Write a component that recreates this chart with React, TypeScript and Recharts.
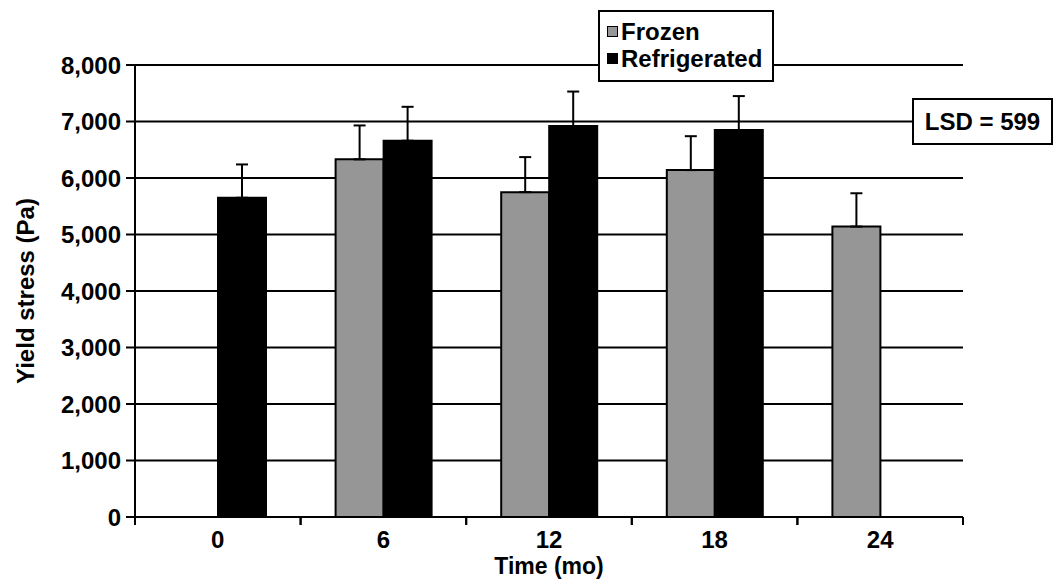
import { Bar, BarChart, CartesianGrid, ErrorBar, XAxis, YAxis } from 'recharts';

const months = ['0', '6', '12', '18', '24'];
const frozen = [null, 6330, 5750, 6140, 5140];
const refrigerated = [5650, 6660, 6920, 6850, null];
const frozenErr = [null, 600, 620, 600, 590];
const refrigeratedErr = [590, 600, 610, 600, null];
const yTicks = [0, 1000, 2000, 3000, 4000, 5000, 6000, 7000, 8000];

const W = 1057;
const H = 580;
const M = { top: 65, right: 94, bottom: 0, left: 0 };
const Y_AXIS_W = 135;
const X_AXIS_H = 63;
const BAND = (W - M.right - Y_AXIS_W) / months.length;
const FONT = '"Liberation Sans", Arial, Helvetica, sans-serif';
const FS = 24;

const data = months.map((m, i) => ({
  month: m,
  frozen: frozen[i],
  refrigerated: refrigerated[i],
  frozenErr: frozenErr[i] == null ? null : [0, frozenErr[i]],
  refrigeratedErr: refrigeratedErr[i] == null ? null : [0, refrigeratedErr[i]],
}));

function XTick({ x, y, payload }: any) {
  return (
    <g>
      <line x1={x - BAND / 2} x2={x - BAND / 2} y1={y} y2={y + 8} stroke="#000" strokeWidth={2} />
      <line x1={x + BAND / 2} x2={x + BAND / 2} y1={y} y2={y + 8} stroke="#000" strokeWidth={2} />
      <text x={x} y={y + 31} textAnchor="middle" fontFamily={FONT} fontWeight="bold" fontSize={FS} fill="#000">
        {payload.value}
      </text>
    </g>
  );
}

function XLabel({ viewBox }: any) {
  return (
    <text
      x={viewBox.x + viewBox.width / 2}
      y={viewBox.y + 57}
      textAnchor="middle"
      fontFamily={FONT}
      fontWeight="bold"
      fontSize={23}
      fill="#000"
    >
      Time (mo)
    </text>
  );
}

function YLabel({ viewBox }: any) {
  const cx = 25;
  const cy = viewBox.y + viewBox.height / 2;
  return (
    <text
      x={cx}
      y={cy}
      transform={`rotate(-90 ${cx} ${cy})`}
      textAnchor="middle"
      dominantBaseline="central"
      fontFamily={FONT}
      fontWeight="bold"
      fontSize={FS}
      fill="#000"
    >
      Yield stress (Pa)
    </text>
  );
}

function LegendBox() {
  const row = { display: 'flex', alignItems: 'center', height: 27 } as const;
  const swatch = (fill: string) => ({
    width: 9,
    height: 9,
    background: fill,
    border: '1.5px solid #000',
    marginRight: 3,
  });
  return (
    <div
      style={{
        position: 'absolute',
        left: 598,
        top: 10,
        border: '2px solid #000',
        background: '#fff',
        padding: '6px 4px 4px 7px',
        boxSizing: 'border-box',
        width: 176,
        height: 72,
        fontFamily: FONT,
        fontWeight: 'bold',
        fontSize: FS,
        lineHeight: 1,
        color: '#000',
      }}
    >
      <div style={row}>
        <span style={swatch('#969696')} />
        Frozen
      </div>
      <div style={row}>
        <span style={swatch('#000')} />
        Refrigerated
      </div>
    </div>
  );
}

export default function App() {
  return (
    <div style={{ position: 'fixed', left: 0, top: 0, width: W, height: H, background: '#fff' }}>
      <BarChart width={W} height={H} data={data} margin={M} barCategoryGap={35} barGap={0}>
        <CartesianGrid vertical={false} stroke="#000" strokeWidth={2} />
        <XAxis
          dataKey="month"
          height={X_AXIS_H}
          axisLine={{ stroke: '#000', strokeWidth: 2 }}
          tickLine={false}
          tickSize={0}
          tickMargin={0}
          tick={<XTick />}
          interval={0}
          label={<XLabel />}
        />
        <YAxis
          width={Y_AXIS_W}
          domain={[0, 8000]}
          ticks={yTicks}
          interval={0}
          tickFormatter={(v: number) => v.toLocaleString('en-US')}
          axisLine={{ stroke: '#000', strokeWidth: 2 }}
          tickLine={{ stroke: '#000', strokeWidth: 2 }}
          tickSize={9}
          tickMargin={5}
          tick={{ fill: '#000', fontFamily: FONT, fontWeight: 'bold', fontSize: FS }}
          label={<YLabel />}
        />
        <YAxis
          yAxisId="frame"
          orientation="right"
          width={0}
          domain={[0, 8000]}
          tick={false}
          tickLine={false}
          axisLine={{ stroke: '#000', strokeWidth: 2 }}
        />
        <Bar dataKey="frozen" name="Frozen" fill="#969696" stroke="#000" strokeWidth={2} isAnimationActive={false}>
          <ErrorBar dataKey="frozenErr" width={6} stroke="#000" strokeWidth={2} direction="y" />
        </Bar>
        <Bar
          dataKey="refrigerated"
          name="Refrigerated"
          fill="#000"
          stroke="#000"
          strokeWidth={2}
          isAnimationActive={false}
        >
          <ErrorBar dataKey="refrigeratedErr" width={6} stroke="#000" strokeWidth={2} direction="y" />
        </Bar>
      </BarChart>
      <LegendBox />
      <div
        style={{
          position: 'absolute',
          left: 912,
          top: 98,
          width: 141,
          height: 47,
          boxSizing: 'border-box',
          border: '2px solid #000',
          background: '#fff',
          display: 'flex',
          alignItems: 'center',
          justifyContent: 'center',
          fontFamily: FONT,
          fontWeight: 'bold',
          fontSize: FS,
          color: '#000',
        }}
      >
        LSD = 599
      </div>
    </div>
  );
}
